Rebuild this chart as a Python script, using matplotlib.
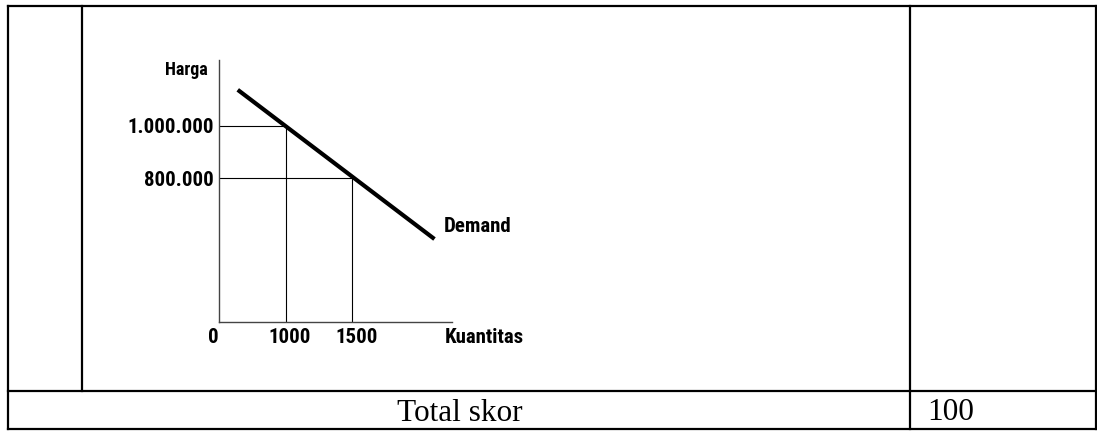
"""
Demand curve sketch (Harga vs Kuantitas) inside the answer-key table cell.
Saves out.png (1097x432).
"""

import matplotlib

matplotlib.use("Agg")
import matplotlib.pyplot as plt
import numpy as np

# ── data ──────────────────────────────────────────────────────────────────────
quantity = [1000, 1500]            # points marked on the demand curve
price = [1000000, 800000]
qty_labels = ["1000", "1500"]
price_labels = ["1.000.000", "800.000"]

demand_q = [280, 2120]             # ends of the drawn demand line
demand_p = [1138000, 461000]

total_label = "Total skor"
total_value = "100"

# the sketch is not drawn to scale: piecewise-linear axes through the anchors
X_DATA = [0, 1000, 1500, 4000]
X_DISP = [0, 67.0, 133.3, 464.8]
Y_DATA = [0, 800000, 1000000, 2000000]
Y_DISP = [0, 143.4, 195.7, 457.2]

SANS = ["Roboto Condensed", "Liberation Sans", "DejaVu Sans"]
SERIF = ["Liberation Serif", "DejaVu Serif"]

W, H = 1097, 432
fig = plt.figure(figsize=(W / 100, H / 100), dpi=100)

# ── table frame ───────────────────────────────────────────────────────────────
bg = fig.add_axes([0, 0, 1, 1])
bg.set_xlim(0, W)
bg.set_ylim(H, 0)
bg.axis("off")
tbl = dict(color="black", lw=1.6, solid_capstyle="projecting")
left, right, top, bottom = 7.5, 1095.5, 6.0, 429.0
row_sep, col_in, col_score = 391.0, 82.0, 909.5
bg.plot([left, right], [top, top], **tbl)
bg.plot([left, right], [bottom, bottom], **tbl)
bg.plot([left, right], [row_sep, row_sep], **tbl)
bg.plot([left, left], [top, bottom], **tbl)
bg.plot([right, right], [top, bottom], **tbl)
bg.plot([col_in, col_in], [top, row_sep], **tbl)
bg.plot([col_score, col_score], [top, bottom], **tbl)
bg.text(459.5, 421, total_label, family=SERIF, fontsize=22.5,
        ha="center", va="baseline")
bg.text(927, 420, total_value, family=SERIF, fontsize=22.5,
        ha="left", va="baseline")

# ── demand sketch ─────────────────────────────────────────────────────────────
ax = fig.add_axes([219 / W, (H - 321.7) / H, 232.7 / W, 261.7 / H])
ax.patch.set_alpha(0)
ax.set_xscale("function", functions=(lambda v: np.interp(v, X_DATA, X_DISP),
                                     lambda v: np.interp(v, X_DISP, X_DATA)))
ax.set_yscale("function", functions=(lambda v: np.interp(v, Y_DATA, Y_DISP),
                                     lambda v: np.interp(v, Y_DISP, Y_DATA)))
ax.set_xlim(0, 2250)
ax.set_ylim(0, 1252000)
for s in ["top", "right"]:
    ax.spines[s].set_visible(False)
for s in ["left", "bottom"]:
    ax.spines[s].set_linewidth(1.0)
    ax.spines[s].set_color("#444444")

# guide lines from the axes to the curve
for q, p in zip(quantity, price):
    ax.plot([0, q], [p, p], color="black", lw=0.8)
    ax.plot([q, q], [0, p], color="black", lw=0.8)

ax.plot(demand_q, demand_p, color="black", lw=3, solid_capstyle="butt")

ax.set_xticks([])
ax.set_yticks(price)
ax.set_yticklabels(price_labels, family=SANS, fontweight="bold", fontsize=15)
ax.tick_params(axis="y", length=0, pad=4)

lab = dict(family=SANS, fontweight="bold", fontsize=15,
           textcoords="offset pixels", va="center")
ax.annotate("0", xy=(0, 0), xytext=(-6, -16), ha="center", **lab)
for q, t in zip(quantity, qty_labels):
    ax.annotate(t, xy=(q, 0), xytext=(4, -16), ha="center", **lab)
ax.annotate("Kuantitas", xy=(1, 0), xycoords="axes fraction",
            xytext=(-7, -16), ha="left", **lab)
ax.annotate("Demand", xy=(demand_q[-1], demand_p[-1]),
            xytext=(9, 13), ha="left", **lab)
ax.annotate("Harga", xy=(0, 1), xycoords="axes fraction", xytext=(-11, -10),
            ha="right", va="center", family=SANS, fontweight="bold",
            fontsize=13, textcoords="offset pixels")

fig.savefig("out.png", dpi=100)
